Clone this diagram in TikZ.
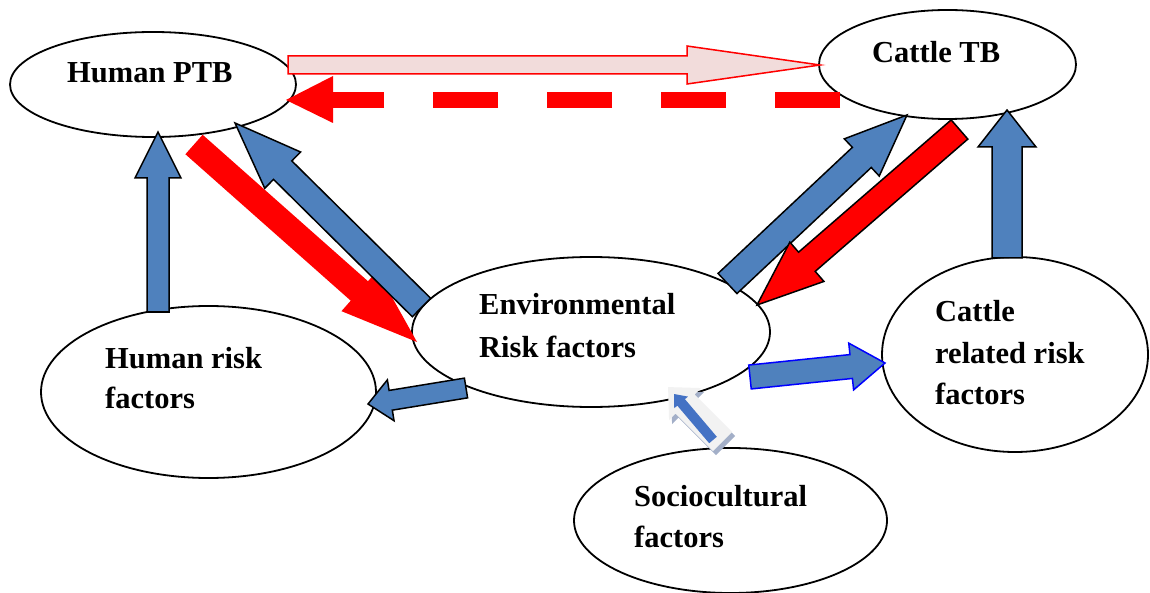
\documentclass[tikz,border=0pt]{standalone}
\usepackage{fontspec}
\setmainfont{Liberation Serif}
\usetikzlibrary{shapes.geometric}
\definecolor{cblue}{HTML}{4F81BD}
\definecolor{cpink}{HTML}{F2DCDB}
\definecolor{cblue2}{HTML}{4472C4}
\definecolor{cgrey}{HTML}{F2F2F2}
\definecolor{cshad}{HTML}{A3AFC8}
% block arrow: style, tail x, tail y, tip x, tip y, half body, half head, head length
\newcommand\blk[8]{%
  \pgfmathsetmacro\bAng{atan2(-(#5-#3),#4-#2)}%
  \pgfmathsetmacro\bLen{veclen(#4-#2,#5-#3)}%
  \draw[#1,shift={(#2,#3)},rotate=\bAng]
    (0,#6) -- (\bLen-#8,#6) -- (\bLen-#8,#7) -- (\bLen,0)
    -- (\bLen-#8,-#7) -- (\bLen-#8,-#6) -- (0,-#6) -- cycle;}
\begin{document}
\begin{tikzpicture}[x=1pt,y=-1pt,
  ell/.style={ellipse,draw=black,line width=1.8,fill=white,inner sep=0pt},
  lbl/.style={anchor=base west,inner sep=0pt,font=\fontsize{30.5}{40}\selectfont\bfseries},
  bluearr/.style={fill=cblue,draw=black,line width=1.5,line join=miter},
  bluearrb/.style={fill=cblue,draw=blue,line width=1.5,line join=miter},
  redarr/.style={fill=red,draw=none},
  redarrb/.style={fill=red,draw=black,line width=1.5,line join=miter},
  pinkarr/.style={fill=cpink,draw=red,line width=1.5,line join=miter},
  greyarr/.style={fill=cgrey,draw=none},
  shadarr/.style={fill=cshad,draw=none},
  innerarr/.style={fill=cblue2,draw=none}]
\useasboundingbox (0,0) rectangle (1150,593);
\fill[white] (0,0) rectangle (1150,593);

% ellipses
\node[ell,minimum width=286,minimum height=105] (hptb) at (153,84.5) {};
\node[ell,minimum width=257,minimum height=109] (ctb) at (947.5,64.5) {};
\node[ell,minimum width=358,minimum height=150] (env) at (591,332) {};
\node[ell,minimum width=335,minimum height=172] (hrf) at (208.5,392) {};
\node[ell,minimum width=266,minimum height=195] (crf) at (1015,354.5) {};
\node[ell,minimum width=313,minimum height=145] (soc) at (730.5,520.5) {};

% labels
\node[lbl] (t1) at (67,83) {Human PTB};
\node[lbl] (t2) at (872,63) {Cattle TB};
\node[lbl] (t3) at (479,315) {Environmental};
\node[lbl] (t4) at (479,357) {Risk factors};
\node[lbl] (t5) at (105,368) {Human risk};
\node[lbl] (t6) at (105,408) {factors};
\node[lbl] (t7) at (935,322) {Cattle};
\node[lbl] (t8) at (935,363) {related risk};
\node[lbl] (t9) at (935,404) {factors};
\node[lbl] (t10) at (634,506) {Sociocultural};
\node[lbl] (t11) at (634,547) {factors};

% Human PTB -> Cattle TB (outlined)
\blk{pinkarr}{288}{65}{820}{65}{9}{19}{133}
% Cattle TB -> Human PTB (dashed)
\draw[red,line width=16,dash pattern=on 65 off 49] (840,100) -- (333,100);
\fill[red] (333,76) -- (286,100) -- (333,123) -- cycle;

% Human risk -> Human PTB
\blk{bluearr}{158}{312}{158}{132}{11}{23}{46}
% Human PTB -> Env
\blk{redarr}{194}{144.5}{417}{342}{13}{27}{77}
% Env -> Human PTB
\blk{bluearr}{421.5}{307.5}{235}{123}{13}{25.5}{67}
% Env -> Cattle TB
\blk{bluearr}{727.5}{283.5}{907}{115}{13.8}{25.5}{62}
% Cattle TB -> Env
\blk{redarrb}{959.5}{129.5}{757}{305}{12.7}{26}{66}
% Cattle related -> Cattle TB
\blk{bluearr}{1007}{258}{1007}{110}{15}{29}{37}
% Env -> Human risk
\blk{bluearr}{466}{388}{368}{404}{10}{20.7}{23}
% Env -> Cattle related
\blk{bluearrb}{750}{377}{885}{363}{12}{23.5}{34}
% Sociocultural -> Env
\blk{shadarr}{725.5}{445.5}{671}{391}{13.5}{22.6}{24}
\blk{greyarr}{722.5}{441.5}{668}{387}{13.5}{22.6}{24}
\blk{innerarr}{713}{440}{674}{394}{5}{9}{11}
\end{tikzpicture}
\end{document}
